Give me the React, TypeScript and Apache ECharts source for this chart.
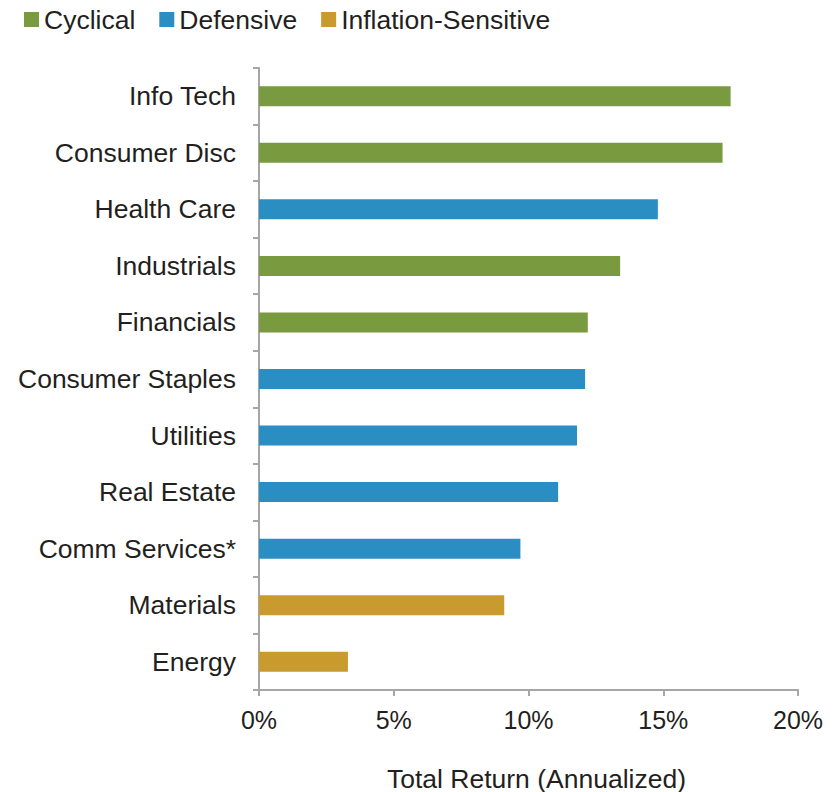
import React, { useEffect, useRef } from "react";
import * as echarts from "echarts";

const categories = [
  "Info Tech",
  "Consumer Disc",
  "Health Care",
  "Industrials",
  "Financials",
  "Consumer Staples",
  "Utilities",
  "Real Estate",
  "Comm Services*",
  "Materials",
  "Energy",
];
const values = [17.5, 17.2, 14.8, 13.4, 12.2, 12.1, 11.8, 11.1, 9.7, 9.1, 3.3];
const groups = [
  "Cyclical",
  "Cyclical",
  "Defensive",
  "Cyclical",
  "Cyclical",
  "Defensive",
  "Defensive",
  "Defensive",
  "Defensive",
  "Inflation-Sensitive",
  "Inflation-Sensitive",
];
const groupNames = ["Cyclical", "Defensive", "Inflation-Sensitive"];
const groupColors = ["#7A9A3F", "#2A8EC3", "#C99A2E"];
const xTicks = [0, 5, 10, 15, 20];

export default function App() {
  const ref = useRef<HTMLDivElement>(null);
  useEffect(() => {
    if (!ref.current) return;
    const chart = echarts.init(ref.current, undefined, { renderer: "svg" });
    const font = "'Liberation Sans', Arial, sans-serif";
    const series = groupNames.map((g, gi) => ({
      name: g,
      type: "bar" as const,
      stack: "all",
      barWidth: 20,
      itemStyle: { color: groupColors[gi] },
      data: values.map((v, i) => (groups[i] === g ? v : null)),
    }));
    chart.setOption({
      animation: false,
      backgroundColor: "#ffffff",
      textStyle: { fontFamily: font },
      legend: {
        data: groupNames,
        left: 19,
        top: 1,
        itemWidth: 15,
        itemHeight: 15,
        itemGap: 24,
        icon: "rect",
        textStyle: { fontFamily: font, fontSize: 26.5, color: "#231F20", padding: [0, 0, 0, 0] },
      },
      grid: {
        left: 259,
        right: 39,
        top: 68,
        bottom: 102,
        containLabel: false,
        outerBoundsMode: "none",
      },
      xAxis: {
        type: "value",
        min: xTicks[0],
        max: xTicks[xTicks.length - 1],
        interval: 5,
        name: "Total Return (Annualized)",
        nameLocation: "middle",
        nameGap: 75,
        nameTextStyle: { fontFamily: font, fontSize: 26.5, color: "#231F20", padding: [0, 0, 0, 16] },
        axisLine: { show: true, lineStyle: { color: "#A6A6A6", width: 2 } },
        axisTick: { show: true, length: 6, lineStyle: { color: "#A6A6A6", width: 2 } },
        splitLine: { show: false },
        axisLabel: {
          fontFamily: font,
          fontSize: 25,
          color: "#231F20",
          margin: 17,
          formatter: (v: number) => `${v}%`,
        },
      },
      yAxis: {
        type: "category",
        data: categories,
        inverse: true,
        axisLine: { show: true, lineStyle: { color: "#A6A6A6", width: 2 } },
        axisTick: { show: true, length: 6, lineStyle: { color: "#A6A6A6", width: 2 } },
        axisLabel: { fontFamily: font, fontSize: 26.5, color: "#231F20", margin: 23 },
      },
      series,
    });
    return () => chart.dispose();
  }, []);
  return (
    <div
      ref={ref}
      style={{ position: "fixed", left: 0, top: 0, width: 837, height: 792 }}
    />
  );
}
